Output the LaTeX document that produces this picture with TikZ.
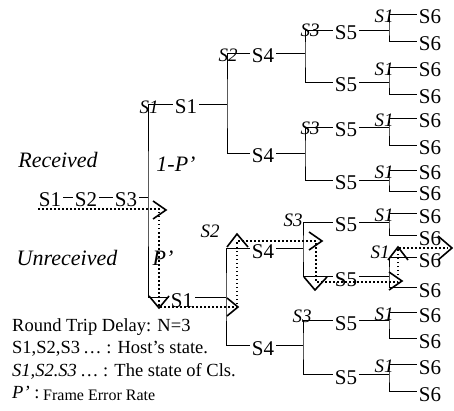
\documentclass[tikz,border=0pt]{standalone}
\usepackage{fontspec}
\setmainfont{Liberation Serif}
\usetikzlibrary{calc}
\newcommand\treefont{\fontsize{21}{21}\selectfont}
\newcommand\labfont{\fontsize{19}{19}\selectfont\itshape}
\newcommand\bigitfont{\fontsize{22}{22}\selectfont\itshape}
\newcommand\legfont{\fontsize{18.5}{18.5}\selectfont}
\newcommand\smallleg{\fontsize{16}{16}\selectfont}
\begin{document}
\begin{tikzpicture}[x=1pt,y=-1pt,
 st/.style={font=\treefont, inner xsep=2pt, inner ysep=0pt, text height=20pt, text depth=0pt},
 lab/.style={font=\labfont, inner sep=0pt},
 big/.style={font=\bigitfont, inner sep=0pt},
 leg/.style={font=\legfont, inner sep=0pt, anchor=west},
 tree/.style={line width=0.7pt},
 dotp/.style={line width=1.5pt, dash pattern=on 1.5pt off 2.5pt},
 chev/.style={line width=1.6pt, line join=miter, line cap=butt}]
\useasboundingbox (0,0) rectangle (454,411);

% ---------- root ----------
\node[st] (r1) at (50,197) {S1};
\node[st] (r2) at (86,197) {S2};
\node[st] (r3) at (126,197) {S3};
\draw[tree] (r1) -- (r2);
\draw[tree] (r2) -- (r3);
\coordinate (j0) at (148,197);
\draw[tree] (r3) -- (j0);

\node[st] (t1) at (186,104) {S1};
\node[st] (b1) at (182,297) {S1};
\draw[tree] (t1.west) -| (j0) |- (b1.west);
\node[lab] (c0) at (149,107) {S1};

% ---------- level 2 ----------
\node[st] (u4a) at (263,53) {S4};
\node[st] (u4b) at (263,153) {S4};
\coordinate (j1) at (227,104);
\draw[tree] (t1.east) -- (j1);
\draw[tree] (u4a.west) -| (j1) |- (u4b.west);
\node[lab] (c1) at (228,55) {S2};

\node[st] (l4a) at (263,248) {S4};
\node[st] (l4b) at (263,345) {S4};
\coordinate (j2) at (226,297);
\draw[tree] (b1.east) -- (j2);
\draw[tree] (l4a.west) -| (j2) |- (l4b.west);
\node[lab] (c2) at (210,231) {S2};

% ---------- level 3 ----------
\node[st] (u5a) at (346,30) {S5};
\node[st] (u5b) at (346,82) {S5};
\coordinate (j3) at (305,53);
\draw[tree] (u4a.east) -- (j3);
\draw[tree] (u5a.west) -| (j3) |- (u5b.west);
\node[lab] (c3) at (310,30) {S3};

\node[st] (u5c) at (346,127) {S5};
\node[st] (u5d) at (346,180) {S5};
\coordinate (j4) at (305,153);
\draw[tree] (u4b.east) -- (j4);
\draw[tree] (u5c.west) -| (j4) |- (u5d.west);
\node[lab] (c4) at (310,128) {S3};

\node[st] (l5a) at (346,222) {S5};
\node[st] (l5b) at (346,276) {S5};
\coordinate (j5) at (303,248);
\draw[tree] (l4a.east) -- (j5);
\draw[tree] (l5a.west) -| (j5) |- (l5b.west);
\node[lab] (c5) at (293,220) {S3};

\node[st] (l5c) at (346,320) {S5};
\node[st] (l5d) at (346,374) {S5};
\coordinate (j6) at (303,345);
\draw[tree] (l4b.east) -- (j6);
\draw[tree] (l5c.west) -| (j6) |- (l5d.west);
\node[lab] (c6) at (302,316) {S3};

% ---------- level 4 ----------
\foreach \p/\a/\b/\n/\ly/\lx in {u5a/14/41/7/16.5/384, u5b/67/94/8/69.5/384, u5c/118/145/9/120.5/384, u5d/170/191/10/172.5/384, l5a/213/235/11/215.5/384, l5b/257/287/12/252/380, l5c/312/338/13/314.5/384, l5d/364/391/14/366.5/384}{
  \node[st] (s\n a) at (430,\a) {S6};
  \node[st] (s\n b) at (430,\b) {S6};
  \coordinate (j\n) at (\p.east -| 389,0);
  \draw[tree] (\p.east) -- (j\n);
  \draw[tree] (s\n a.west) -| (j\n) |- (s\n b.west);
  \node[lab] (c\n) at (\lx,\ly) {S1};
}

% ---------- labels ----------
\node[big] (rec) at (58,160) {Received};
\node[big] (onep) at (176,164) {1-P’};
\node[big] (unrec) at (67,258) {Unreceived};
\node[big] (pp) at (163,258) {P’};

% ---------- dotted path ----------
\coordinate (p0) at (38,209);
\coordinate (p1) at (159,209);
\coordinate (p2) at (159,307);
\coordinate (p3) at (237,307);
\coordinate (p4) at (237,241);
\coordinate (p5) at (316,241);
\coordinate (p6) at (316,282);
\coordinate (p7) at (398,282);
\coordinate (p8) at (398,248);
\coordinate (p9) at (448,248);
\draw[dotp] (p0) -- (p1) -- (p2) -- (p3) -- (p4) -- (p5) -- (p6) -- (p7) -- (p8) -- (p9);

\draw[chev] (153,201) -- (166,210) -- (153,219);
\draw[chev] (149,296) -- (159,308) -- (169,296);
\draw[chev] (227,298) -- (238,307) -- (227,316);
\draw[chev] (227,247) -- (237,234) -- (248,247);
\draw[chev] (309,232) -- (322,241) -- (309,250);
\draw[chev] (304,277) -- (315,290) -- (327,277);
\draw[chev] (389,272) -- (402,281) -- (389,290);
\draw[chev] (388,260) -- (398,247) -- (408,260);
\draw[chev] (438,236) -- (452,248) -- (438,260);

% ---------- legend ----------
\node[leg] (lg1) at (12,327) {Round Trip Delay: N=3};
\node[leg] (lg2) at (12,349) {S1,S2,S3\,… : Host’s state.};
\node[leg] (lg3) at (12,371) {\textit{S1,S2.S3}\,… : The state of Cls.};
\node[leg] (lg4) at (12,392) {\textit{P’} :};
\node[leg, font=\smallleg] (lg5) at (43,395) {Frame Error Rate};
\end{tikzpicture}
\end{document}
